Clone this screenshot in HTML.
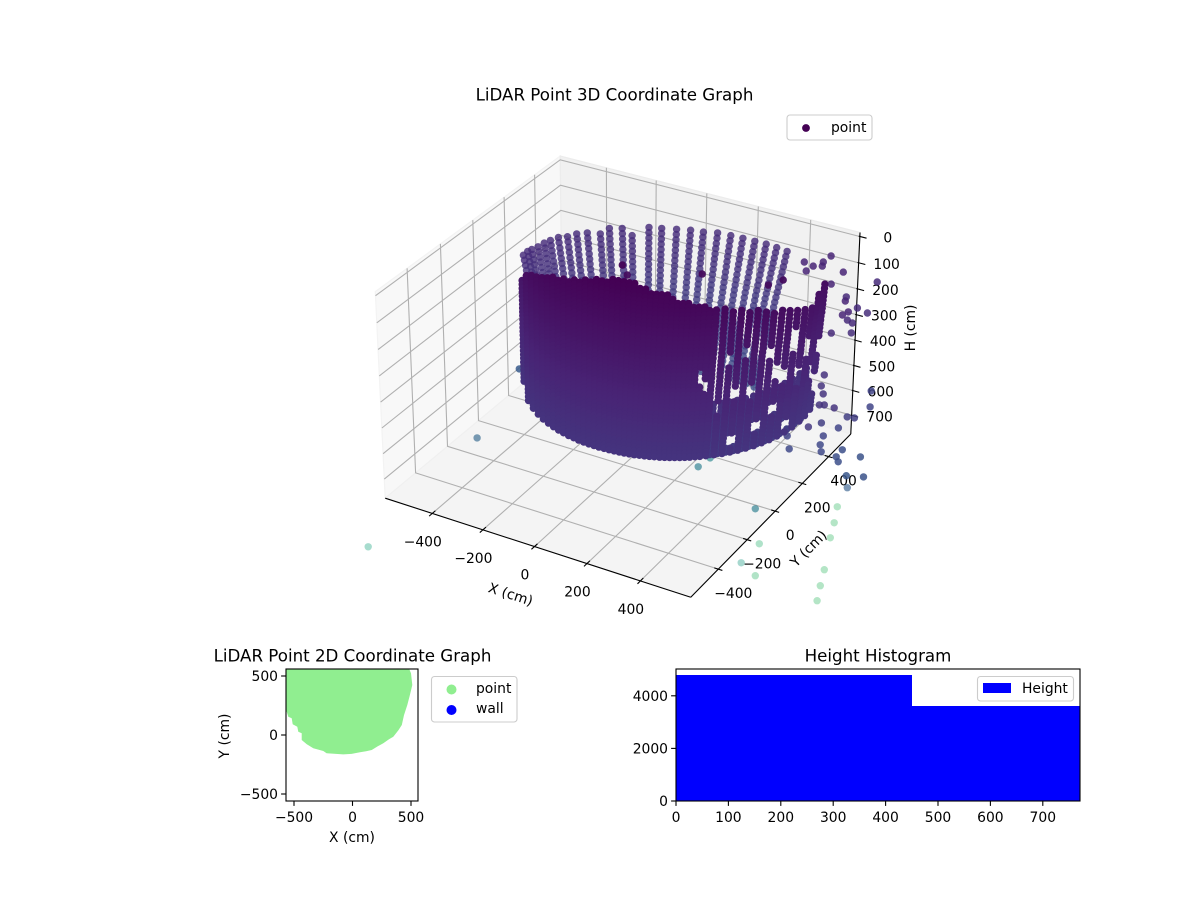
<!DOCTYPE html>
<html>
<head>
<meta charset="utf-8">
<title>LiDAR Point Graphs</title>
<style>
html,body{margin:0;padding:0;background:#fff;}
svg{display:block;}
text{font-family:"DejaVu Sans","Liberation Sans",sans-serif;fill:#000;}
</style>
</head>
<body>
<svg id="fig" width="1200" height="900" viewBox="0 0 1200 900" xmlns="http://www.w3.org/2000/svg">
  <rect width="1200" height="900" fill="#fff"/>
  <defs>
    <clipPath id="clip2d"><rect x="286" y="669" width="132" height="132"/></clipPath>
  </defs>
  <g id="g3d"></g>
  <g id="g2d"></g>
  <g id="ghist"></g>
  <g id="glegend"></g>
</svg>
<script>
// ---------- 3D chart data ----------
const xTicks3d = [-400,-200,0,200,400];
const yTicks3d = [-400,-200,0,200,400];
const hTicks3d = [0,100,200,300,400,500,600,700];
const xLim3d = [-589,585];
const yLim3d = [-585,573];
const hLim3d = [776,-15];

// far-side wall columns
const backTopX = [-468,-470,-465,-457,-453,-445,-432,-408,-391,-363,-320,-314,-275,-218,-198,-156,-108,-62,-17,29,78,124,170,214,257,301];
const backTopY = [125,156,175,203,237,265,297,318,352,377,393,445,467,437,520,536,556,574,584,603,608,611,612,613,608,601];
const backRowH = [144,163,183,202,222,241,260,280,299,319,338,357,377,396,416,435,454,474,493,513,532,551,571,590,610,629,649,668];
const backRowScale = [1,.992,.984,.977,.969,.961,.954,.946,.938,.93,.922,.915,.907,.899,.891,.884,.876,.868,.86,.852,.845,.837,.829,.822,.814,.806,.798,.79];

// near-side wall columns (azimuth about scan centre, range, first height)
const scanCentreX = -42;
const scanCentreY = 416;
const frontAz = [210,224.8,231,235.8,239.9,243.6,246.9,250,252.8,255.6,258.2,260.7,263.1,265.5,267.8,270,272.2,274.3,276.4,278.5,280.5,282.5,284.5,286.5,288.5,290.4,292.3,294.3,296.2,298.1,300,301.9,303.8,305.7,307.7,309.6,311.9,315.1,318.3,321.5,324.8,328.2,331.8,335.5,339.3,343.4,347.7,352.5,357.8,362.5,367.9];
const frontRange = [522,520,519,518,517,516,515,515,514,514,513,513,512,512,511,511,510,510,510,510,510,510,510,510,510,510,510,510,510,510,510,510,510,510,510,510,510,510,510,510,510,510,510,510,510,510,510,510,510,510,510];
const frontTopH = [256,170,139,115,104,90,76,68,57,50,41,37,29,21,15,10,5,0,0,0,0,0,5,10,17,17,25,31,41,49,57,60,64,68,74,80,88,93,99,107,114,122,132,142,150,164,177,190,205,185,170];
const frontRowH = [0,15.5,31,46.5,62,77.5,93,108.5,124,139.5,155,170.5,186,201.5,217,232.5,248,263.5,279,294.5,310,325.5,341,356.5,372,387.5,403,418.5,434,449.5,465,480.5,496,511.5,527,542.5,558,573.5,589,604.5,620,635.5,651,666.5];
const frontRowScale = [1.05,1.049,1.048,1.047,1.045,1.044,1.043,1.042,1.041,1.04,1.039,1.037,1.036,1.035,1.034,1.033,1.032,1.031,1.03,1.028,1.027,1.026,1.025,1.024,1.023,1.022,1.02,1.019,1.018,1.017,1.016,1.015,1.014,1.012,1.011,1.01,1.009,1.008,1.007,1.006,1.004,1.003,1.002,1.001];
const dropoutCol = [46,40,43,38,44,41,34,35,39,42,39,44,46,48,47,49,50,50,45,37];
const dropoutFrom = [17,17,19,18,24,27,21,24,27,37,39,34,40,22,28,30,25,34,26,30];
const dropoutTo = [22,19,21,20,27,30,24,26,29,39,41,36,42,26,32,33,28,38,29,32];

// second return layer behind the lower right of the wall
const innerAz = [313.5,316.7,319.9,323.1,326.5,330,333.6,337.4,341.3,345.5,350,355,360];
const innerRange = [505,505,505,505,505,505,505,505,505,505,505,505,505];
const innerFirstRow = 30;
const innerHoleCol = [5,6,2,3,7,8,9,10];
const innerHoleFrom = [37,37,39,39,34,34,40,40];
const innerHoleTo = [39,39,41,41,36,36,42,42];

// isolated returns
const strayX = [253,190,345,249,232,227,260,482,348,436,446,505,551,490,482,513,537,506,565,613,637,666,795,837,738,687,701,800,823,744,719,806,685,786,727,802,824,877,879,898,946,957,1007,991,527,534,798,900,901,970,1013,1045,1072,1134,1162,1189,-120,-175,-291,-363,-310,-83,159,187];
const strayY = [1055,966,967,1000,954,908,970,960,865,806,778,753,738,712,682,658,648,548,583,280,210,166,263,168,103,96,104,73,79,-3,-47,-4,-131,-73,-199,-127,-164,-119,-167,-191,-129,-253,-232,-315,-440,-374,-567,-735,-854,-894,-430,-516,-597,-762,-844,-919,-1343,-642,-196,620,563,703,747,807];
const strayH = 382;
const strayShade = [.1,.1,.1,.1,.1,.1,.1,.12,.1,.12,.1,.12,.13,.1,.1,.12,.12,.12,.13,.14,.15,.15,.2,.2,.15,.15,.15,.18,.18,.18,.16,.2,.2,.2,.22,.22,.22,.24,.24,.24,.25,.27,.25,.3,.42,.45,.42,.66,.55,.68,.7,.7,.7,.7,.7,.7,.6,.33,.28,.01,.03,.02,.03,.03];

// ---------- 2D chart data ----------
const ticks2d = [-500,0,500];
const outlineX = [-568,485,485,500,511,491,468,440,421,392,349,312,263,218,164,116,64,-8,-79,-221,-250,-335,-391,-434,-434,-463,-472,-511,-520,-549,-562,-568];
const outlineY = [600,600,559,523,424,339,254,169,85,40,-14,-36,-70,-94,-127,-138,-147,-160,-164,-155,-136,-113,-79,-42,14,28,70,91,142,155,197,197];

// ---------- Histogram data ----------
const binEdges = [0,90,180,270,360,450,530,610,690,772];
const binCounts = [4790,4790,4790,4790,4790,3612,3612,3612,3612];
const histXTicks = [0,100,200,300,400,500,600,700];
const histYTicks = [0,2000,4000];

// ---------- axis functions ----------
const NS = 'http://www.w3.org/2000/svg';
const K = 0.00102;
function proj(x,y,h){
  const dx = K*(x+2), dy = K*(y+6), dz = K*(388-h);
  const xv = .866*dx + .5*dy;
  const yv = -.25*dx + .433*dy + .866*dz;
  const dw = .433*dx - .75*dy + .5*dz;
  return [622.2 + 2916*xv/(10-dw), 367.5 - 2916*yv/(10-dw)];
}
const x2d = v => 352.5 + .117*v;
const y2d = v => 735 - .118*v;
const xHist = v => 676 + .524*v;
const yHist = v => 801 - .0263*v;

const viridisStops = [[68,1,84],[72,36,117],[65,68,135],[53,95,141],[42,120,142],[33,145,140],[34,168,132],[68,191,112],[122,209,81],[189,223,38],[253,231,37]];
function viridis(t){
  t = Math.max(0,Math.min(.9999,t))*10;
  const i = Math.floor(t), f = t-i, a = viridisStops[i], b = viridisStops[i+1];
  return 'rgb('+[0,1,2].map(k=>Math.round(a[k]+(b[k]-a[k])*f)).join(',')+')';
}
function mk(tag,parent,attrs){
  const el = document.createElementNS(NS,tag);
  for(const k in attrs) el.setAttribute(k,attrs[k]);
  parent.appendChild(el);
  return el;
}
function polyPts(list){ return list.map(p=>p[0].toFixed(1)+','+p[1].toFixed(1)).join(' '); }
function label(parent,str,x,yRaw,anchor,rot,size){
  const y = yRaw + 1;
  const el = mk('text',parent,{x:x,y:y,'text-anchor':anchor||'middle','dominant-baseline':'central','font-size':size||13.89});
  if(rot) el.setAttribute('transform','rotate('+rot+' '+x+' '+y+')');
  el.textContent = str;
  return el;
}
const fmt = v => String(v).replace('-','\u2212');

// ---------- 3D panes / grid / axes ----------
const g3 = document.getElementById('g3d');
const [x0,x1] = xLim3d, [y0,y1] = yLim3d, [hF,hT] = hLim3d;
let el;
el = mk('polygon',g3,{points:polyPts([proj(x0,y0,hF),proj(x0,y1,hF),proj(x0,y1,hT),proj(x0,y0,hT)]),fill:'#f8f8f8',stroke:'#f3f3f3','stroke-width':1.2});


el = mk('polygon',g3,{points:polyPts([proj(x0,y1,hF),proj(x1,y1,hF),proj(x1,y1,hT),proj(x0,y1,hT)]),fill:'#f1f1f1',stroke:'#ececec','stroke-width':1.2});


el = mk('polygon',g3,{points:polyPts([proj(x0,y0,hF),proj(x1,y0,hF),proj(x1,y1,hF),proj(x0,y1,hF)]),fill:'#f4f4f4',stroke:'#f0f0f0','stroke-width':1.2});



function gridPath(pts){
  const e = mk('polyline',g3,{points:polyPts(pts),fill:'none',stroke:'#b0b0b0','stroke-width':1.1});
  
  
}
xTicks3d.forEach(v=>gridPath([proj(v,y0,hF),proj(v,y1,hF),proj(v,y1,hT)]));
yTicks3d.forEach(v=>gridPath([proj(x1,v,hF),proj(x0,v,hF),proj(x0,v,hT)]));
hTicks3d.forEach(v=>gridPath([proj(x0,y0,v),proj(x0,y1,v),proj(x1,y1,v)]));

function axisLine(a,b,name,w){
  const e = mk('line',g3,{x1:a[0],y1:a[1],x2:b[0],y2:b[1],stroke:'#000','stroke-width':w||1.1});
  
  
}
axisLine(proj(x0,y0,hF),proj(x1,y0,hF),'x-axis-line');
axisLine(proj(x1,y0,hF),proj(x1,y1,hF),'y-axis-line');
axisLine(proj(x1,y1,hF),proj(x1,y1,hT),'h-axis-line');
xTicks3d.forEach(v=>{
  axisLine(proj(v,y0-19,hF),proj(v,y0+19,hF),'x-tick');
  const p = proj(v,y0,hF);
  el = label(g3,fmt(v),p[0]-9.5,p[1]+28);
  
  
});
yTicks3d.forEach(v=>{
  axisLine(proj(x1-15,v,hF),proj(x1+15,v,hF),'y-tick');
  const p = proj(x1,v,hF);
  el = label(g3,fmt(v),p[0]+15,p[1]+24);
  
  
});
hTicks3d.forEach(v=>{
  axisLine(proj(x1-4,y1,v),proj(x1+25,y1,v),'h-tick');
  const p = proj(x1,y1,v);
  el = label(g3,fmt(v),p[0]+28,p[1]+1);
  
  
});
el = label(g3,'X (cm)',510.5,594,'middle',18);


el = label(g3,'Y (cm)',809,548,'middle',-45);


el = label(g3,'H (cm)',911,327,'middle',-90);


el = label(g3,'LiDAR Point 3D Coordinate Graph',614.5,94,'middle',0,16.67);



// ---------- 3D scatter ----------
const R3 = 3.7;
const gPts = mk('g',g3,{});



backTopX.forEach((bx,c)=>{
  backRowH.forEach((h,r)=>{
    const s = backRowScale[r];
    const p = proj(-60+(bx+60)*s, 250+(backTopY[c]-250)*s, h);
    const dot = mk('circle',gPts,{cx:p[0].toFixed(1),cy:p[1].toFixed(1),r:R3,fill:viridis(.09+h/4500),'fill-opacity':.82});
    
    
  });
});

strayX.forEach((sx,i)=>{
  const p = proj(sx,strayY[i],strayH);
  const c = strayShade[i];
  const a = c<.05 ? .95 : c<.3 ? .85 : c<.5 ? .65 : .4;
  const dot = mk('circle',gPts,{cx:p[0].toFixed(1),cy:p[1].toFixed(1),r:R3,fill:viridis(c),'fill-opacity':a});
  
  
});

innerAz.forEach((az,c)=>{
  const rad = az*Math.PI/180;
  const bx = scanCentreX + innerRange[c]*Math.cos(rad);
  const by = scanCentreY + innerRange[c]*Math.sin(rad);
  frontRowH.forEach((h,r)=>{
    if(r < innerFirstRow) return;
    for(let g=0;g<innerHoleCol.length;g++){
      if(innerHoleCol[g]===c && r>=innerHoleFrom[g] && r<=innerHoleTo[g]) return;
    }
    const s = frontRowScale[r];
    const p = proj(-480+(bx+480)*s, 150+(by-150)*s, h);
    const dot = mk('circle',gPts,{cx:p[0].toFixed(1),cy:p[1].toFixed(1),r:R3,fill:viridis(.03+h/4500)});
    
    
  });
});

frontAz.forEach((az,c)=>{
  const rad = az*Math.PI/180;
  const bx = scanCentreX + frontRange[c]*Math.cos(rad);
  const by = scanCentreY + frontRange[c]*Math.sin(rad);
  frontRowH.forEach((h,r)=>{
    if(h < frontTopH[c]) return;
    for(let g=0;g<dropoutCol.length;g++){
      if(dropoutCol[g]===c && r>=dropoutFrom[g] && r<=dropoutTo[g]) return;
    }
    const s = frontRowScale[r];
    const p = proj(-480+(bx+480)*s, 150+(by-150)*s, h);
    const dot = mk('circle',gPts,{cx:p[0].toFixed(1),cy:p[1].toFixed(1),r:R3,fill:viridis(h/4500)});
    
    
  });
});

// ---------- 2D chart ----------
const g2 = document.getElementById('g2d');
el = mk('polygon',g2,{points:polyPts(outlineX.map((v,i)=>[x2d(v),y2d(outlineY[i])])),fill:'#90ee90','clip-path':'url(#clip2d)'});


el = mk('rect',g2,{x:286,y:669,width:132,height:132,fill:'none',stroke:'#000','stroke-width':1.1});


ticks2d.forEach(v=>{
  let t = mk('line',g2,{x1:x2d(v),y1:801,x2:x2d(v),y2:805.9,stroke:'#000','stroke-width':1.1});
  
  
  t = mk('line',g2,{x1:286,y1:y2d(v),x2:281.1,y2:y2d(v),stroke:'#000','stroke-width':1.1});
  
  
  let l = label(g2,fmt(v),x2d(v),817);
  
  
  l = label(g2,fmt(v),278,y2d(v),'end');
  
  
});
el = label(g2,'X (cm)',352,837);


el = label(g2,'Y (cm)',225,735,'middle',-90);


el = label(g2,'LiDAR Point 2D Coordinate Graph',352.5,655,'middle',0,16.67);



// ---------- Histogram ----------
const gh = document.getElementById('ghist');
binCounts.forEach((n,i)=>{
  const b = mk('rect',gh,{x:xHist(binEdges[i]),y:yHist(n),width:xHist(binEdges[i+1])-xHist(binEdges[i]),height:801-yHist(n),fill:'#0000ff','shape-rendering':'crispEdges'});
  
  
});
el = mk('rect',gh,{x:676,y:669,width:404,height:132,fill:'none',stroke:'#000','stroke-width':1.1});


histXTicks.forEach(v=>{
  const t = mk('line',gh,{x1:xHist(v),y1:801,x2:xHist(v),y2:805.9,stroke:'#000','stroke-width':1.1});
  
  
  const l = label(gh,fmt(v),xHist(v),817);
  
  
});
histYTicks.forEach(v=>{
  const t = mk('line',gh,{x1:676,y1:yHist(v),x2:671.1,y2:yHist(v),stroke:'#000','stroke-width':1.1});
  
  
  const l = label(gh,fmt(v),668,yHist(v),'end');
  
  
});
el = label(gh,'Height Histogram',878,655,'middle',0,16.67);



// ---------- Legends ----------
const gl = document.getElementById('glegend');
function legendBox(x,y,w,h){
  return mk('rect',gl,{x:x,y:y,width:w,height:h,rx:3,ry:3,fill:'#fff','fill-opacity':.8,stroke:'#ccc','stroke-width':1.1});
}
el = legendBox(787,115,85,25);


el = mk('circle',gl,{cx:806,cy:128,r:3.9,fill:'#440154'});


el = label(gl,'point',831,127,'start');



el = legendBox(431.5,676.5,85.5,45.5);


el = mk('circle',gl,{cx:451.5,cy:689.5,r:5,fill:'#90ee90'});


el = label(gl,'point',476,688,'start');


el = mk('circle',gl,{cx:451.5,cy:710,r:5,fill:'#0000ff'});


el = label(gl,'wall',476,708,'start');



el = legendBox(977.5,676.5,96,24.5);


el = mk('rect',gl,{x:983,y:683,width:28,height:10,fill:'#0000ff'});


el = label(gl,'Height',1022,688,'start');


</script>
</body>
</html>
